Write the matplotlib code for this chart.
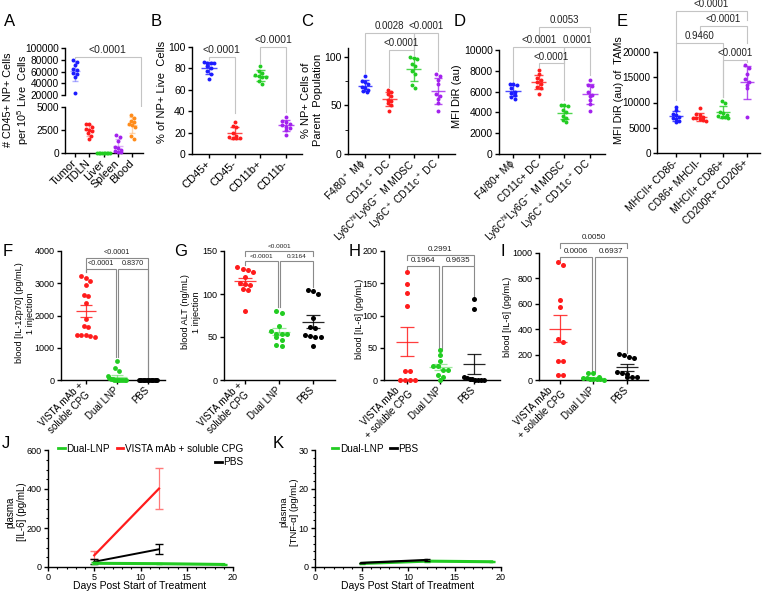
import numpy as np
import matplotlib
matplotlib.use('Agg')
import matplotlib.pyplot as plt
from matplotlib.ticker import MultipleLocator
from matplotlib.lines import Line2D

plt.rcParams['font.family'] = ['Liberation Sans', 'DejaVu Sans']
plt.rcParams['mathtext.fontset'] = 'custom'
plt.rcParams['mathtext.rm'] = 'Liberation Sans'
plt.rcParams['mathtext.it'] = 'Liberation Sans:italic'
plt.rcParams['mathtext.bf'] = 'Liberation Sans:bold'
plt.rcParams['axes.linewidth'] = 1.0
plt.rcParams['xtick.major.width'] = 1.0
plt.rcParams['ytick.major.width'] = 1.0
plt.rcParams['xtick.major.size'] = 3
plt.rcParams['ytick.major.size'] = 3
plt.rcParams['xtick.major.pad'] = 2
plt.rcParams['ytick.major.pad'] = 1.5

BLUE = '#1c1cff'
RED = '#ff1c1c'
GREEN = '#22cc22'
PURPLE = '#a322ee'
ORANGE = '#ff8c1a'
BLACK = '#000000'
LIGHT = '#c4c4c4'
DARK = '#8a8a8a'

# ---------------- data ----------------
a_labels = ['Tumor', 'TDLN', 'Liver', 'Spleen', 'Blood']
a_tumor = [80000, 77000, 71000, 64000, 62000, 58000, 55000, 51000, 23000]
a_tdln = [3150, 3100, 2850, 2650, 2450, 2400, 2150, 1800, 1500]
a_liver = [30, 20, 10, 10, 5, 5, 0, 0, 0]
a_spleen = [1950, 1750, 1300, 600, 500, 300, 200, 150, 100]
a_blood = [4100, 3850, 3500, 3400, 3100, 3000, 2800, 1800, 1500]

b_labels = ['CD45+', 'CD45-', 'CD11b+', 'CD11b-']
b_cd45p = [86, 85, 85, 85, 82, 80, 78, 75, 70]
b_cd45n = [30, 26, 25, 20, 17, 16, 15, 15, 15]
b_cd11bp = [82, 78, 76, 74, 73, 72, 72, 68, 65]
b_cd11bn = [35, 31, 30, 28, 27, 25, 24, 22, 18]

c_labels = ['F4/80$^+$ M\u03d5', 'CD11c$^+$ DC', 'Ly6C$^{\\rm hi}$Ly6G$^-$ M MDSC',
            'Ly6C$^+$ CD11c$^+$ DC']
c_mac = [80, 75, 74, 72, 69, 68, 66, 65, 64]
c_dc = [66, 64, 62, 60, 56, 55, 52, 50, 44]
c_mdsc = [100, 99, 98, 93, 90, 85, 82, 71, 68]
c_ly6c = [82, 80, 76, 72, 62, 60, 57, 52, 44]

d_labels = ['F4/80+ M\u03d5', 'CD11c+ DC', 'Ly6C$^{\\rm hi}$Ly6G$^-$ M MDSC',
            'Ly6C$^+$ CD11c$^+$ DC']
d_mac = [6750, 6700, 6600, 6300, 6000, 5900, 5700, 5500, 5300]
d_dc = [8100, 7700, 7300, 7100, 6900, 6700, 6400, 6300, 5800]
d_mdsc = [4750, 4700, 4600, 4250, 4000, 3700, 3450, 3300, 3100]
d_ly6c = [7150, 6600, 6500, 6000, 5700, 5600, 5200, 4800, 4150]

e_labels = ['MHCII+ CD86-', 'CD86+ MHCII-', 'MHCII+ CD86+', 'CD200R+ CD206+']
e_m1a = [9200, 8500, 7800, 7500, 7200, 7000, 6800, 6400, 6100]
e_m1b = [9000, 7700, 7500, 7200, 7000, 6900, 6700, 6500, 6400]
e_m1c = [10300, 9900, 8200, 8000, 7600, 7300, 7200, 7100, 7000]
e_m2 = [17400, 16800, 15600, 14600, 14100, 13500, 12800, 7100]

fg_labels = ['VISTA mAb +\nsoluble CPG', 'Dual LNP', 'PBS']
hi_labels = ['VISTA mAb\n+ soluble CPG', 'Dual LNP', 'PBS']
f_vista = [3150, 3220, 3080, 2960, 2650, 2600, 2380, 1900, 1660, 1650, 1370, 1390, 1380, 1380, 1340]
f_dual = [580, 370, 270, 110, 60, 40, 20, 10, 10, 5, 0, 0, 0, 0, 0]
f_pbs = [8, 6, 5, 5, 4, 4, 3, 3, 2, 2, 1, 1, 0, 0, 0]

g_vista = [131, 126, 128, 129, 120, 112, 110, 113, 105, 106, 80]
g_dual = [78, 80, 63, 57, 53, 54, 54, 50, 47, 41, 39]
g_pbs = [105, 104, 100, 72, 62, 61, 52, 50, 51, 50, 40]

h_vista = [168, 149, 135, 115, 14, 14, 0, 0, 0, 0]
h_dual = [46, 38, 30, 22, 22, 15, 15, 8, 5, 0]
h_pbs = [125, 110, 5, 3, 2, 2, 0, 0, 0, 0]

i_vista = [929, 905, 630, 575, 323, 300, 150, 150, 40, 40]
i_dual = [55, 55, 20, 15, 15, 10, 10, 5, 5, 0]
i_pbs = [178, 195, 203, 175, 60, 55, 50, 25, 25, 20]

j_days_dual = [5, 12, 19]
j_dual = [19, 17, 13]
j_dual_err = [5, 4, 3]
j_days_vista = [5, 12]
j_vista = [60, 402]
j_vista_err = [21, 106]
j_days_pbs = [5, 12]
j_pbs = [27, 91]
j_pbs_err = [12, 25]

k_days_dual = [5, 12, 19]
k_dual = [0.9, 1.5, 1.35]
k_dual_err = [0.1, 0.15, 0.1]
k_days_pbs = [5, 12]
k_pbs = [1.05, 1.8]
k_pbs_err = [0.1, 0.15]

# ---------------- helpers ----------------
W, H = 763, 592
fig = plt.figure(figsize=(W / 100, H / 100), dpi=100)


def add_ax(l, t, r, b):
    return fig.add_axes([l / W, 1 - b / H, (r - l) / W, (b - t) / H])


def ftext(x, y, s, **kw):
    fig.text(x / W, 1 - y / H, s, **kw)


def swarm(vals, thresh, step, maxw):
    vals = np.asarray(vals, float)
    order = np.argsort(-vals, kind='stable')
    offs = np.zeros(len(vals))
    rows = []
    for i in order:
        if rows and abs(vals[rows[-1][0]] - vals[i]) < thresh:
            rows[-1].append(i)
        else:
            rows.append([i])
    for r in rows:
        n = len(r)
        st = step if n < 2 else min(step, 2 * maxw / (n - 1))
        for j, idx in enumerate(r):
            offs[idx] = (j - (n - 1) / 2) * st
    return offs


def draw_group(ax, x, vals, color, yspan, size, thr, step, maxw, kind='sd',
               half=0.3, cap=0.17, lw=1.0, alpha=0.8):
    vals = np.asarray(vals, float)
    m = vals.mean()
    e = vals.std(ddof=1)
    if kind == 'sem':
        e = e / np.sqrt(len(vals))
    ax.hlines(m, x - half, x + half, colors=color, lw=lw, alpha=alpha, zorder=2)
    ax.vlines(x, m - e, m + e, colors=color, lw=lw, alpha=alpha, zorder=2)
    ax.hlines([m - e, m + e], x - cap, x + cap, colors=color, lw=lw, alpha=alpha, zorder=2)
    offs = swarm(vals, thr * yspan, step, maxw)
    ax.scatter(x + offs, vals, s=size, color=color, lw=0, zorder=3, clip_on=False)


def bracket(ax, x1, x2, y, d1, d2, txt, color, fs, lw=0.8):
    ax.plot([x1, x1, x2, x2], [d1, y, y, d2], color=color, lw=lw, clip_on=False,
            solid_joinstyle='miter', zorder=1)
    ax.annotate(txt, xy=((x1 + x2) / 2, y), xytext=(0, 1.2), textcoords='offset points',
                ha='center', va='bottom', fontsize=fs, color='#222222', annotation_clip=False)


def style(ax, fs):
    ax.spines['top'].set_visible(False)
    ax.spines['right'].set_visible(False)
    ax.tick_params(labelsize=fs)


def cat_xticks(ax, labels, fs):
    ax.set_xticks(range(len(labels)))
    ax.set_xticklabels(labels, rotation=45, ha='right', va='center',
                       rotation_mode='anchor', fontsize=fs, multialignment='center')
    ax.tick_params(axis='x', pad=3)


# ---------------- Panel A (broken axis) ----------------
axAt = add_ax(65, 48, 143, 95)
axAb = add_ax(65, 107, 143, 153)
for ax in (axAt, axAb):
    style(ax, 7.3)
    ax.set_xlim(-0.7, 4.75)
axAt.spines['bottom'].set_visible(False)
axAt.set_xticks([])
axAt.set_ylim(20000, 100000)
axAt.set_yticks([20000, 40000, 60000, 80000, 100000])
axAb.set_ylim(0, 5000)
axAb.set_yticks([0, 2500, 5000])
cat_xticks(axAb, a_labels, 8)

a_groups = [a_tumor, a_tdln, a_liver, a_spleen, a_blood]
a_colors = [BLUE, RED, GREEN, PURPLE, ORANGE]
for i, (vals, c) in enumerate(zip(a_groups, a_colors)):
    ax = axAt if max(vals) > 5000 else axAb
    span = 80000 if ax is axAt else 5000
    draw_group(ax, i, vals, c, span, 8, 0.07, 0.22, 0.45, alpha=0.35, half=0.35, cap=0.2)

fig.canvas.draw()
pt = axAb.transData.transform((4.6, 4350))
y_low = axAt.transData.inverted().transform(pt)[1]
bracket(axAt, 0, 4.6, 85100, 83000, y_low, '<0.0001', LIGHT, 7.5)
ftext(17, 100, '# CD45+ NP+ Cells\nper 10$^5$ Live  Cells', rotation=90,
      ha='center', va='center', fontsize=7.8, multialignment='center')

# ---------------- Panel B ----------------
axB = add_ax(192, 47, 302, 154)
style(axB, 7.5)
axB.set_xlim(-0.66, 3.62)
axB.set_ylim(0, 100)
axB.set_yticks([0, 20, 40, 60, 80, 100])
cat_xticks(axB, b_labels, 8)
for i, (vals, c) in enumerate(zip([b_cd45p, b_cd45n, b_cd11bp, b_cd11bn],
                                  [BLUE, RED, GREEN, PURPLE])):
    draw_group(axB, i, vals, c, 100, 8, 0.033, 0.14, 0.3)
bracket(axB, 0, 1, 90.6, 88, 38, '<0.0001', LIGHT, 7.5)
bracket(axB, 2, 3, 100, 85, 39, '<0.0001', LIGHT, 7.5)
ftext(162, 92, '% of NP+ Live  Cells', rotation=90, ha='center', va='center', fontsize=8)

# ---------------- Panel C ----------------
axC = add_ax(348, 48, 455, 154)
style(axC, 7.5)
axC.set_xlim(-0.7, 3.7)
axC.set_ylim(0, 109)
axC.set_yticks([0, 50, 100])
axC.yaxis.set_minor_locator(MultipleLocator(25))
axC.tick_params(axis='y', which='minor', length=2)
cat_xticks(axC, c_labels, 7.5)
for i, (vals, c) in enumerate(zip([c_mac, c_dc, c_mdsc, c_ly6c], [BLUE, RED, GREEN, PURPLE])):
    draw_group(axC, i, vals, c, 109, 8, 0.033, 0.14, 0.3)
bracket(axC, 0, 2, 124.7, 83, 107, '0.0028', LIGHT, 7)
bracket(axC, 2, 3, 124.7, 107, 85, '<0.0001', LIGHT, 7)
bracket(axC, 1, 2, 107, 69, 102, '<0.0001', LIGHT, 7)
ftext(312, 100, '% NP+ Cells of\nParent  Population', rotation=90,
      ha='center', va='center', fontsize=8, multialignment='center')

# ---------------- Panel D ----------------
axD = add_ax(499, 50, 605, 154)
style(axD, 7.5)
axD.set_xlim(-0.55, 3.58)
axD.set_ylim(0, 10000)
axD.set_yticks(range(0, 10001, 2000))
cat_xticks(axD, d_labels, 7.5)
for i, (vals, c) in enumerate(zip([d_mac, d_dc, d_mdsc, d_ly6c], [BLUE, RED, GREEN, PURPLE])):
    draw_group(axD, i, vals, c, 10000, 8, 0.033, 0.14, 0.3)
bracket(axD, 1, 3, 12211, 10680, 11760, '0.0053', LIGHT, 7)
bracket(axD, 0, 2, 10320, 6950, 8720, '<0.0001', LIGHT, 7)
bracket(axD, 2, 3, 10320, 8720, 7600, '0.0001', LIGHT, 7)
bracket(axD, 1, 2, 8720, 8400, 5190, '<0.0001', LIGHT, 7)
ftext(457, 96, 'MFI DiR (au)', rotation=90, ha='center', va='center', fontsize=8)

# ---------------- Panel E ----------------
axE = add_ax(657, 52, 760, 153)
style(axE, 7.2)
axE.set_xlim(-0.8, 3.55)
axE.set_ylim(0, 20000)
axE.set_yticks(range(0, 20001, 5000))
cat_xticks(axE, e_labels, 7.5)
for i, (vals, c) in enumerate(zip([e_m1a, e_m1b, e_m1c, e_m2], [BLUE, RED, GREEN, PURPLE])):
    draw_group(axE, i, vals, c, 20000, 8, 0.033, 0.14, 0.3)
bracket(axE, 0, 3, 28100, 21800, 26300, '<0.0001', LIGHT, 7)
bracket(axE, 1, 3, 25150, 23400, 21800, '<0.0001', LIGHT, 7)
bracket(axE, 0, 2, 21800, 10500, 11150, '0.9460', LIGHT, 7)
bracket(axE, 2, 3, 18400, 11150, 18000, '<0.0001', LIGHT, 7)
ftext(619, 90, 'MFI DiR (au) of  TAMs', rotation=90, ha='center', va='center', fontsize=7.8)

# ---------------- Panels F-I ----------------
def blood_panel(rect, groups, ymax, yticks, labels, xlim, size, pfs, brs, ylab, ylab_xy):
    ax = add_ax(*rect)
    style(ax, 6.5)
    ax.set_xlim(*xlim)
    ax.set_ylim(0, ymax)
    ax.set_yticks(yticks)
    cat_xticks(ax, labels, 7)
    for i, (vals, c) in enumerate(zip(groups, [RED, GREEN, BLACK])):
        draw_group(ax, i, vals, c, ymax, size, 0.04, 0.15, 0.3, kind='sem',
                   half=0.33, cap=0.2, lw=0.9, alpha=0.85 if c != GREEN else 0.45)
    for x1, x2, y, d1, d2, t in brs:
        bracket(ax, x1, x2, y, d1, d2, t, DARK, pfs, lw=0.8)
    ftext(ylab_xy[0], ylab_xy[1], ylab, rotation=90, ha='center', va='center',
          fontsize=6.6, multialignment='center')
    return ax


blood_panel((61, 251, 165, 380), [f_vista, f_dual, f_pbs], 4000, range(0, 4001, 1000),
            fg_labels, (-0.8, 2.55), 12, 5.2,
            [(0, 2, 3782, 3350, 93, '<0.0001'),
             (0, 0.96, 3441, 3350, 713, '<0.0001'),
             (1.04, 2, 3441, 713, 93, '0.8370')],
            'blood [IL-12p70] (pg/mL)\n1 injection', (25, 313))

blood_panel((224, 251, 335, 380), [g_vista, g_dual, g_pbs], 150, [0, 50, 100, 150],
            fg_labels, (-0.62, 2.65), 13, 4.6,
            [(0, 2, 150, 144, 144, '<0.0001'),
             (0, 0.96, 138.4, 134, 85, '<0.0001'),
             (1.04, 2, 138.4, 85, 108, '0.3164')],
            'blood ALT (ng/mL)\n1 injection', (191, 312))

blood_panel((384, 251, 500, 380), [h_vista, h_dual, h_pbs], 200, [0, 50, 100, 150, 200],
            hi_labels, (-0.69, 2.78), 13, 5.8,
            [(0, 2, 194, 186, 178, '0.2991'),
             (0, 0.96, 177, 170.5, 46.5, '0.1964'),
             (1.04, 2, 177, 46.5, 128.7, '0.9635')],
            'blood [IL-6] (pg/mL)', (359, 319))

blood_panel((539, 253, 648, 380), [i_vista, i_dual, i_pbs], 1000, range(0, 1001, 200),
            hi_labels, (-0.63, 2.63), 13, 5.8,
            [(0, 2, 1078, 1039, 1039, '0.0050'),
             (0, 0.96, 968, 944, 63, '0.0006'),
             (1.04, 2, 968, 63, 212, '0.6937')],
            'blood [IL-6] (pg/mL)', (507, 317))

# ---------------- Panels J, K ----------------
def time_axes(rect, ymax, ymaj, ymin):
    ax = add_ax(*rect)
    style(ax, 6.5)
    ax.set_xlim(0, 20)
    ax.set_ylim(0, ymax)
    ax.xaxis.set_major_locator(MultipleLocator(5))
    ax.xaxis.set_minor_locator(MultipleLocator(1))
    ax.yaxis.set_major_locator(MultipleLocator(ymaj))
    ax.yaxis.set_minor_locator(MultipleLocator(ymin))
    ax.tick_params(which='minor', length=1.5, width=0.8)
    ax.tick_params(axis='x', pad=1.5)
    return ax


leg_kw = dict(frameon=False, handlelength=0.65, handletextpad=0.15, columnspacing=0.7,
              borderaxespad=0, borderpad=0, fontsize=7.2)


def lh(c):
    return Line2D([], [], color=c, lw=2)


axJ = time_axes((48, 450, 233, 567), 600, 200, 50)
axJ.errorbar(j_days_dual, j_dual, yerr=j_dual_err, color=GREEN, lw=2.2, capsize=2.5,
             elinewidth=1, zorder=4)
axJ.errorbar(j_days_vista, j_vista, yerr=j_vista_err, color=RED, lw=1.6, capsize=3,
             ecolor='#ff7a7a', elinewidth=0.9, zorder=3)
axJ.errorbar(j_days_pbs, j_pbs, yerr=j_pbs_err, color=BLACK, lw=1.4, capsize=3,
             elinewidth=0.9, zorder=3)
leg1 = axJ.legend([lh(GREEN), lh(RED)], ['Dual-LNP', 'VISTA mAb + soluble CPG'], ncol=2,
                  loc='upper right', bbox_to_anchor=(1.055, 1.055), **leg_kw)
axJ.add_artist(leg1)
axJ.legend([lh(BLACK)], ['PBS'], loc='upper right', bbox_to_anchor=(1.055, 0.94), **leg_kw)
ftext(140, 586, 'Days Post Start of Treatment', ha='center', va='center', fontsize=7.5)
ftext(16, 512, 'plasma\n[IL-6] (pg/mL)', rotation=90, ha='center', va='center',
      fontsize=7, multialignment='center')

axK = time_axes((315, 450, 501, 567), 30, 10, 2)
axK.errorbar(k_days_dual, k_dual, yerr=k_dual_err, color=GREEN, lw=2.2, capsize=2.5,
             elinewidth=1, zorder=3)
axK.errorbar(k_days_pbs, k_pbs, yerr=k_pbs_err, color=BLACK, lw=1.6, capsize=2.5,
             elinewidth=0.9, zorder=4)
axK.legend([lh(GREEN), lh(BLACK)], ['Dual-LNP', 'PBS'], ncol=2, loc='upper left',
           bbox_to_anchor=(0.09, 1.055), **leg_kw)
ftext(408, 586, 'Days Post Start of Treatment', ha='center', va='center', fontsize=7.5)
ftext(289, 512, 'plasma\n[TNF-\u03b1] (pg/mL)', rotation=90, ha='center', va='center',
      fontsize=6.8, multialignment='center')

# ---------------- panel letters ----------------
for s, x, y in [('A', 4, 22), ('B', 151, 22), ('C', 301, 22), ('D', 454, 22), ('E', 617, 22),
                ('F', 3, 252), ('G', 174, 252), ('H', 349, 252), ('I', 501, 252),
                ('J', 2, 443), ('K', 273, 443)]:
    ftext(x, y, s, fontsize=12, ha='left', va='center')

fig.savefig('out.png', dpi=100)
